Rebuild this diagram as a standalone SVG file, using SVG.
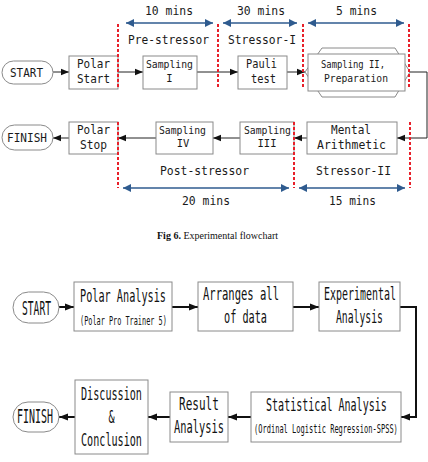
<svg xmlns="http://www.w3.org/2000/svg" width="428" height="462" viewBox="0 0 428 462">
<style>
.box{fill:#fff;stroke:#8a8a8a;stroke-width:1}
.pill{fill:#fff;stroke:#8a8a8a;stroke-width:1}
.t{font-family:"DejaVu Sans Mono","Liberation Mono",monospace;fill:#1a1a1a}
.tb{font-family:"DejaVu Sans Mono","Liberation Mono",monospace;fill:#111}
.red{stroke:#e8202a;stroke-width:2;stroke-dasharray:3 2;fill:none}
.blue{stroke:#2f5b8f;stroke-width:1.6;fill:none;marker-start:url(#bh);marker-end:url(#bh)}
.c1{stroke:#222;stroke-width:1;fill:none;marker-end:url(#ah)}
.c2{stroke:#111;stroke-width:2;fill:none;marker-end:url(#ah2)}
</style>
<defs>
<marker id="ah" viewBox="0 0 10 10" refX="10" refY="5" markerWidth="8" markerHeight="8" markerUnits="userSpaceOnUse" orient="auto"><path d="M0,1 L10,5 L0,9 z" fill="#111"/></marker>
<marker id="ah2" viewBox="0 0 10 10" refX="10" refY="5" markerWidth="9" markerHeight="9" markerUnits="userSpaceOnUse" orient="auto"><path d="M0,1 L10,5 L0,9 z" fill="#111"/></marker>
<marker id="bh" viewBox="0 0 10 10" refX="10" refY="5" markerWidth="10" markerHeight="8" markerUnits="userSpaceOnUse" orient="auto-start-reverse"><path d="M0,0 L10,5 L0,10 z" fill="#2f5b8f"/></marker>
</defs>

<!-- Top diagram -->
<g id="connectors-top">
<line class="c1" x1="53" y1="72" x2="69" y2="72"/>
<line class="c1" x1="118" y1="72" x2="143" y2="72"/>
<line class="c1" x1="197" y1="72" x2="238" y2="72"/>
<line class="c1" x1="287" y1="72" x2="305" y2="72"/>
<polyline class="c1" points="409,72 427,72 427,138 397,138"/>
<line class="c1" x1="307" y1="138" x2="294" y2="138"/>
<line class="c1" x1="240" y1="138" x2="213" y2="138"/>
<line class="c1" x1="156" y1="138" x2="118" y2="138"/>
<line class="c1" x1="69" y1="138" x2="53" y2="138"/>
</g>

<g id="start1"><rect class="pill" x="2" y="61" width="51" height="23" rx="11.5"/><text class="t" x="10" y="77" font-size="13" textLength="33" lengthAdjust="spacingAndGlyphs">START</text></g>
<g id="polarstart"><rect class="box" x="69" y="56" width="49" height="33"/><text class="t" x="77" y="68" font-size="12.5" textLength="33" lengthAdjust="spacingAndGlyphs">Polar</text><text class="t" x="77" y="83" font-size="12.5" textLength="33" lengthAdjust="spacingAndGlyphs">Start</text></g>
<g id="sampling1"><rect class="box" x="143" y="56" width="54" height="33"/><text class="t" x="146" y="68" font-size="10.5" textLength="47" lengthAdjust="spacingAndGlyphs">Sampling</text><text class="t" x="169.5" y="82" font-size="10.5" text-anchor="middle">I</text></g>
<g id="pauli"><rect class="box" x="238" y="56" width="49" height="33"/><text class="t" x="246" y="68" font-size="12.5" textLength="31" lengthAdjust="spacingAndGlyphs">Pauli</text><text class="t" x="251" y="83" font-size="12.5" textLength="25" lengthAdjust="spacingAndGlyphs">test</text></g>
<g id="sampling2"><polygon class="box" points="305,72 322,48 395,48 410,72 395,97 322,97"/><rect class="box" x="308" y="54" width="97" height="37"/><text class="t" x="321" y="68" font-size="11" textLength="64" lengthAdjust="spacingAndGlyphs">Sampling II,</text><text class="t" x="324" y="82" font-size="11" textLength="64" lengthAdjust="spacingAndGlyphs">Preparation</text></g>
<g id="mental"><rect class="box" x="307" y="122" width="90" height="32"/><text class="t" x="331" y="134" font-size="12.5" textLength="40" lengthAdjust="spacingAndGlyphs">Mental</text><text class="t" x="317" y="149" font-size="12.5" textLength="69" lengthAdjust="spacingAndGlyphs">Arithmetic</text></g>
<g id="sampling3"><rect class="box" x="240" y="122" width="54" height="32"/><text class="t" x="244" y="134" font-size="10.5" textLength="47" lengthAdjust="spacingAndGlyphs">Sampling</text><text class="t" x="267" y="147" font-size="10.5" text-anchor="middle">III</text></g>
<g id="sampling4"><rect class="box" x="156" y="122" width="57" height="32"/><text class="t" x="159" y="134" font-size="10.5" textLength="47" lengthAdjust="spacingAndGlyphs">Sampling</text><text class="t" x="183" y="147" font-size="10.5" text-anchor="middle">IV</text></g>
<g id="polarstop"><rect class="box" x="69" y="122" width="49" height="32"/><text class="t" x="77" y="134" font-size="12.5" textLength="33" lengthAdjust="spacingAndGlyphs">Polar</text><text class="t" x="80" y="149" font-size="12.5" textLength="27" lengthAdjust="spacingAndGlyphs">Stop</text></g>
<g id="finish1"><rect class="pill" x="2" y="125" width="51" height="25" rx="12.5"/><text class="t" x="7" y="142" font-size="13" textLength="40" lengthAdjust="spacingAndGlyphs">FINISH</text></g>

<g id="timeline">
<line class="red" x1="118" y1="24" x2="118" y2="89"/>
<line class="red" x1="218" y1="24" x2="218" y2="89"/>
<line class="red" x1="303" y1="24" x2="303" y2="89"/>
<line class="red" x1="409" y1="24" x2="409" y2="89"/>
<line class="red" x1="118" y1="122" x2="118" y2="188"/>
<line class="red" x1="294" y1="122" x2="294" y2="188"/>
<line class="red" x1="410" y1="122" x2="410" y2="188"/>
<line class="blue" x1="126" y1="23" x2="213" y2="23"/>
<line class="blue" x1="223" y1="23" x2="297" y2="23"/>
<line class="blue" x1="308" y1="23" x2="404" y2="23"/>
<line class="blue" x1="123" y1="188" x2="289" y2="188"/>
<line class="blue" x1="299" y1="188" x2="405" y2="188"/>
<text class="t" x="145" y="15" font-size="13" textLength="48" lengthAdjust="spacingAndGlyphs">10 mins</text>
<text class="t" x="237" y="15" font-size="13" textLength="48" lengthAdjust="spacingAndGlyphs">30 mins</text>
<text class="t" x="336" y="15" font-size="13" textLength="41" lengthAdjust="spacingAndGlyphs">5 mins</text>
<text class="t" x="128" y="44" font-size="13" textLength="81" lengthAdjust="spacingAndGlyphs">Pre-stressor</text>
<text class="t" x="228" y="44" font-size="13" textLength="68" lengthAdjust="spacingAndGlyphs">Stressor-I</text>
<text class="t" x="160" y="175" font-size="13" textLength="89" lengthAdjust="spacingAndGlyphs">Post-stressor</text>
<text class="t" x="316" y="175" font-size="13" textLength="75" lengthAdjust="spacingAndGlyphs">Stressor-II</text>
<text class="t" x="182" y="205" font-size="13" textLength="48" lengthAdjust="spacingAndGlyphs">20 mins</text>
<text class="t" x="329" y="205" font-size="13" textLength="47" lengthAdjust="spacingAndGlyphs">15 mins</text>
</g>

<text x="157" y="239" font-family="Liberation Serif, serif" font-size="10" fill="#111"><tspan font-weight="bold">Fig 6.</tspan> Experimental flowchart</text>

<!-- Bottom diagram -->
<g id="connectors-bottom">
<line class="c2" x1="59" y1="307" x2="74" y2="307"/>
<line class="c2" x1="172" y1="307" x2="198" y2="307"/>
<line class="c2" x1="293" y1="307" x2="319" y2="307"/>
<polyline class="c2" points="400,307 416,307 416,417 401,417"/>
<line class="c2" x1="251" y1="417" x2="228" y2="417"/>
<line class="c2" x1="170" y1="417" x2="148" y2="417"/>
<line class="c2" x1="75" y1="417" x2="59" y2="417"/>
</g>

<g id="start2"><rect class="pill" x="13" y="292" width="46" height="31" rx="15.5"/><text class="tb" transform="translate(22,315) scale(0.507,1)" font-size="19">START</text></g>
<g id="polaranalysis"><rect class="box" x="74" y="282" width="98" height="49"/><text class="tb" transform="translate(80,302) scale(0.567,1)" font-size="18">Polar Analysis</text><text class="tb" transform="translate(80,325) scale(0.573,1)" font-size="12">(Polar Pro Trainer 5)</text></g>
<g id="arranges"><rect class="box" x="198" y="282" width="95" height="49"/><text class="tb" transform="translate(203,300) scale(0.62,1)" font-size="17">Arranges all</text><text class="tb" transform="translate(224,323) scale(0.6,1)" font-size="17">of data</text></g>
<g id="experimental"><rect class="box" x="319" y="282" width="81" height="49"/><text class="tb" transform="translate(324,300) scale(0.586,1)" font-size="17">Experimental</text><text class="tb" transform="translate(336,323) scale(0.574,1)" font-size="17">Analysis</text></g>
<g id="statistical"><rect class="box" x="251" y="392" width="150" height="50"/><text class="tb" transform="translate(266,411) scale(0.558,1)" font-size="18">Statistical Analysis</text><text class="tb" transform="translate(254,433) scale(0.586,1)" font-size="12">(Ordinal Logistic Regression-SPSS)</text></g>
<g id="result"><rect class="box" x="170" y="392" width="58" height="50"/><text class="tb" transform="translate(179,410) scale(0.65,1)" font-size="17">Result</text><text class="tb" transform="translate(174,433) scale(0.61,1)" font-size="17">Analysis</text></g>
<g id="discussion"><rect class="box" x="75" y="380" width="73" height="74"/><text class="tb" transform="translate(81,400) scale(0.596,1)" font-size="17">Discussion</text><text class="tb" transform="translate(111.5,423) scale(0.6,1)" font-size="17" text-anchor="middle">&amp;</text><text class="tb" transform="translate(81,446) scale(0.596,1)" font-size="17">Conclusion</text></g>
<g id="finish2"><rect class="pill" x="13" y="402" width="46" height="30" rx="15"/><text class="tb" transform="translate(17,423) scale(0.525,1)" font-size="19">FINISH</text></g>
</svg>
